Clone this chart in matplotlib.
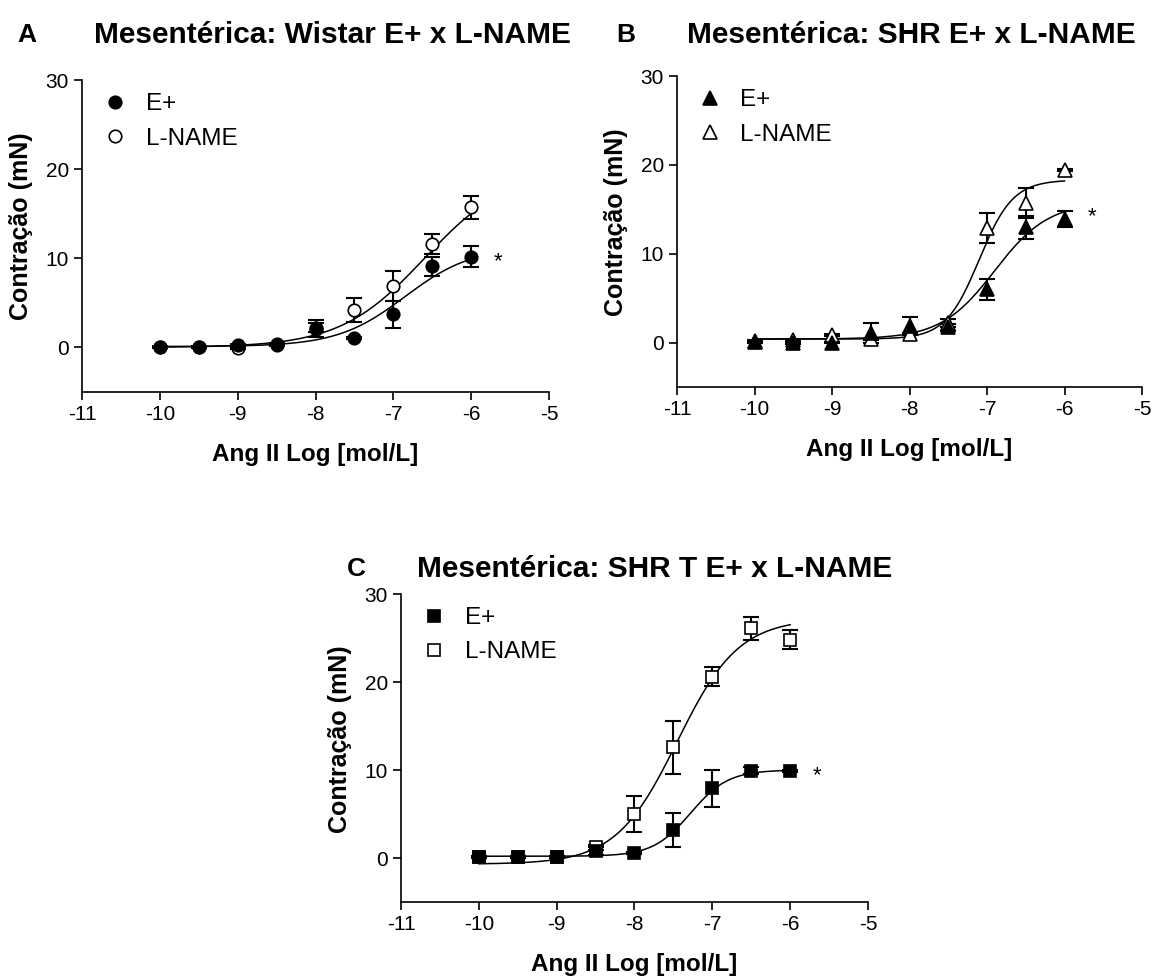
import numpy as np
import matplotlib.pyplot as plt

plt.rcParams['font.family'] = ['Liberation Sans', 'DejaVu Sans']
plt.rcParams['axes.unicode_minus'] = False

# log [Ang II] (mol/L)
log_dose = [-10, -9.5, -9, -8.5, -8, -7.5, -7, -6.5, -6]

# A - Wistar
wistar_e = [0.1, 0.05, 0.25, 0.35, 2.1, 1.1, 3.7, 9.1, 10.2]
wistar_e_sem = [0.1, 0.1, 0.1, 0.1, 0.95, 0.1, 1.5, 1.05, 1.15]
wistar_ln = [0.0, 0.05, -0.1, 0.3, 2.2, 4.2, 6.9, 11.6, 15.7]
wistar_ln_sem = [0.1, 0.1, 0.1, 0.1, 0.5, 1.3, 1.65, 1.15, 1.3]

# B - SHR
shr_e = [0.1, -0.1, 0.0, 1.1, 1.9, 1.7, 6.0, 13.0, 13.9]
shr_e_sem = [0.1, 0.1, 0.1, 1.1, 1.0, 0.4, 1.2, 1.3, 0.9]
shr_ln = [0.2, 0.3, 0.85, 0.35, 0.95, 2.2, 12.9, 15.7, 19.4]
shr_ln_sem = [0.1, 0.1, 0.1, 0.1, 0.1, 0.5, 1.7, 1.7, 0.1]

# C - SHR T
shrt_e = [0.1, 0.1, 0.1, 0.8, 0.6, 3.2, 7.9, 9.9, 9.85]
shrt_e_sem = [0.1, 0.1, 0.1, 0.5, 0.1, 1.9, 2.15, 0.4, 0.1]
shrt_ln = [0.1, 0.1, 0.1, 1.2, 5.0, 12.6, 20.6, 26.1, 24.8]
shrt_ln_sem = [0.1, 0.1, 0.1, 0.3, 2.0, 3.0, 1.1, 1.3, 1.1]

# sigmoid fits: bottom, top, logEC50, hill slope
wistar_e_fit = (0.1, 11.3, -6.85, 1.0)
wistar_ln_fit = (0.0, 20.0, -6.6, 0.8)
shr_e_fit = (0.4, 15.8, -6.9, 1.25)
shr_ln_fit = (0.4, 18.3, -7.1, 2.0)
shrt_e_fit = (0.2, 10.0, -7.28, 1.8)
shrt_ln_fit = (-0.7, 27.2, -7.45, 1.1)

# height of the significance mark in each panel
star_y = [9.6, 14.2, 9.4]

W, H = 1156, 976
MS = {"o": 9, "^": 10.5, "s": 8.5}


def sigmoid(x, bottom, top, logec50, hill):
    return bottom + (top - bottom) / (1 + 10 ** ((logec50 - x) * hill))


def panel(rect, letter, title, letter_x, title_x, title_y, series, star):
    left, top, width, height = rect
    ax = fig.add_axes([left / W, 1 - (top + height) / H, width / W, height / H])
    xs = np.linspace(-10, -6, 200)
    handles = []
    for y, sem, fit, marker, face, label in series:
        ax.plot(xs, sigmoid(xs, *fit), color="black", lw=1.1, zorder=2)
        ax.errorbar(log_dose, y, yerr=sem, fmt="none", ecolor="black",
                    elinewidth=1.5, capsize=5.5, capthick=1.5, zorder=3)
        h, = ax.plot(log_dose, y, ls="none", marker=marker, ms=MS[marker],
                     mfc=face, mec="black", mew=1.2, zorder=4, label=label)
        handles.append(h)
    ax.text(-5.65, star, "*", fontsize=16, ha="center", va="center")

    ax.set_xlim(-11, -5)
    ax.set_ylim(-5, 30)
    ax.set_xticks(range(-11, -4))
    ax.set_yticks([0, 10, 20, 30])
    for s in ["top", "right"]:
        ax.spines[s].set_visible(False)
    for s in ["left", "bottom"]:
        ax.spines[s].set_linewidth(1.2)
    ax.tick_params(direction="out", length=5.5, width=1.2, labelsize=15, pad=4)
    ax.set_ylabel("Contração (mN)", fontsize=18, fontweight="bold")
    ax.set_xlabel("Ang II Log [mol/L]", fontsize=17.5, fontweight="bold")
    ax.yaxis.set_label_coords(-0.105, 0.53)
    ax.xaxis.set_label_coords(0.5, -0.165)

    # E+ listed first
    ax.legend(handles=handles[::-1], loc="upper left", bbox_to_anchor=(0.045, 0.957),
              frameon=False, fontsize=17.5, handlelength=1.0, handletextpad=0.75,
              labelspacing=0.5, borderpad=0, borderaxespad=0)

    fig.text(letter_x / W, 1 - title_y / H, letter, fontsize=19, fontweight="bold",
             ha="center", va="center")
    fig.text(title_x / W, 1 - title_y / H, title, fontsize=21.5, fontweight="bold",
             ha="left", va="center")
    return ax


fig = plt.figure(figsize=(W / 100, H / 100), dpi=100)

panel((82, 80, 467, 312), "A", "Mesentérica: Wistar E+ x L-NAME", 27, 94, 35,
      [(wistar_ln, wistar_ln_sem, wistar_ln_fit, "o", "white", "L-NAME"),
       (wistar_e, wistar_e_sem, wistar_e_fit, "o", "black", "E+")],
      star_y[0])
panel((677, 76, 465, 311), "B", "Mesentérica: SHR E+ x L-NAME", 626, 687, 35,
      [(shr_ln, shr_ln_sem, shr_ln_fit, "^", "white", "L-NAME"),
       (shr_e, shr_e_sem, shr_e_fit, "^", "black", "E+")],
      star_y[1])
panel((401, 594, 467, 308), "C", "Mesentérica: SHR T E+ x L-NAME", 356, 417, 569,
      [(shrt_ln, shrt_ln_sem, shrt_ln_fit, "s", "white", "L-NAME"),
       (shrt_e, shrt_e_sem, shrt_e_fit, "s", "black", "E+")],
      star_y[2])

fig.savefig("out.png", dpi=100)
